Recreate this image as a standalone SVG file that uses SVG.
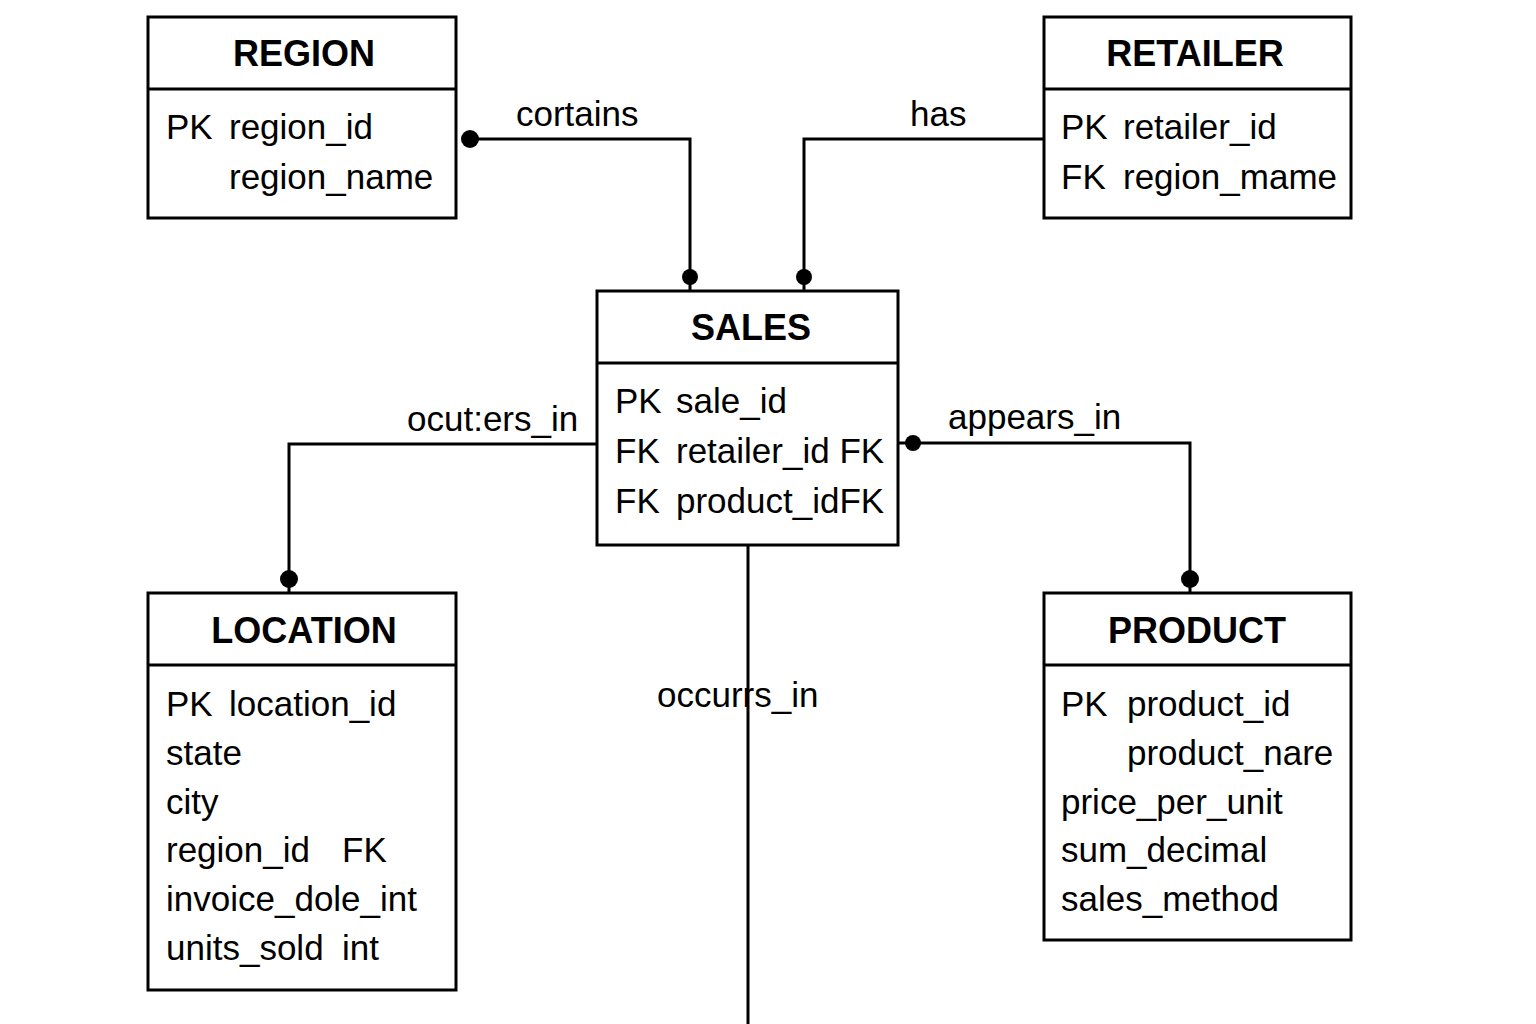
<svg xmlns="http://www.w3.org/2000/svg" width="1536" height="1024" viewBox="0 0 1536 1024">
<style>
.box{fill:#fff;stroke:#000;stroke-width:3}
.div{stroke:#000;stroke-width:3}
.title{font-family:"Liberation Sans",Arial,sans-serif;font-size:36px;font-weight:bold;text-anchor:middle;fill:#000}
.row{font-family:"Liberation Sans",Arial,sans-serif;font-size:35px;fill:#000}
.lbl{font-family:"Liberation Sans",Arial,sans-serif;font-size:35px;fill:#000}
.con{fill:none;stroke:#000;stroke-width:3}
.dot{fill:#000}
</style>
<rect width="1536" height="1024" fill="#fff"/>
<g id="connectors">
  <polyline class="con" points="470,139 690,139 690,291"/>
  <circle class="dot" cx="470" cy="139" r="9"/>
  <circle class="dot" cx="690" cy="277" r="8"/>
  <text class="lbl" x="516" y="126">cortains</text>
  <polyline class="con" points="1044,139 804,139 804,291"/>
  <circle class="dot" cx="804" cy="277" r="8"/>
  <text class="lbl" x="910" y="126">has</text>
  <polyline class="con" points="597,444 289,444 289,593"/>
  <circle class="dot" cx="289" cy="579" r="9"/>
  <text class="lbl" x="407" y="431">ocut:ers_in</text>
  <polyline class="con" points="898,443 1190,443 1190,593"/>
  <circle class="dot" cx="913" cy="443" r="8"/>
  <circle class="dot" cx="1190" cy="579" r="9"/>
  <text class="lbl" x="948" y="429">appears_in</text>
  <text class="lbl" x="657" y="707">occurrs_in</text>
  <line class="con" x1="748" y1="545" x2="748" y2="1024"/>
</g>
<g id="region">
  <rect class="box" x="148" y="17" width="308" height="201"/>
  <line class="div" x1="148" y1="89" x2="456" y2="89"/>
  <text class="title" x="304" y="66">REGION</text>
  <text class="row" x="166" y="139">PK</text>
  <text class="row" x="229" y="139">region_id</text>
  <text class="row" x="229" y="189">region_name</text>
</g>
<g id="retailer">
  <rect class="box" x="1044" y="17" width="307" height="201"/>
  <line class="div" x1="1044" y1="89" x2="1351" y2="89"/>
  <text class="title" x="1195" y="66">RETAILER</text>
  <text class="row" x="1061" y="139">PK</text>
  <text class="row" x="1123" y="139">retailer_id</text>
  <text class="row" x="1061" y="189">FK</text>
  <text class="row" x="1123" y="189">region_mame</text>
</g>
<g id="sales">
  <rect class="box" x="597" y="291" width="301" height="254"/>
  <line class="div" x1="597" y1="363" x2="898" y2="363"/>
  <text class="title" x="751" y="340">SALES</text>
  <text class="row" x="615" y="413">PK</text>
  <text class="row" x="676" y="413">sale_id</text>
  <text class="row" x="615" y="463">FK</text>
  <text class="row" x="676" y="463">retailer_id FK</text>
  <text class="row" x="615" y="513">FK</text>
  <text class="row" x="676" y="513">product_idFK</text>
</g>
<g id="location">
  <rect class="box" x="148" y="593" width="308" height="397"/>
  <line class="div" x1="148" y1="665" x2="456" y2="665"/>
  <text class="title" x="304" y="643">LOCATION</text>
  <text class="row" x="166" y="716">PK</text>
  <text class="row" x="229" y="716">location_id</text>
  <text class="row" x="166" y="765">state</text>
  <text class="row" x="166" y="814">city</text>
  <text class="row" x="166" y="862">region_id</text>
  <text class="row" x="342" y="862">FK</text>
  <text class="row" x="166" y="911">invoice_dole_int</text>
  <text class="row" x="166" y="960">units_sold</text>
  <text class="row" x="342" y="960">int</text>
</g>
<g id="product">
  <rect class="box" x="1044" y="593" width="307" height="347"/>
  <line class="div" x1="1044" y1="665" x2="1351" y2="665"/>
  <text class="title" x="1197" y="643">PRODUCT</text>
  <text class="row" x="1061" y="716">PK</text>
  <text class="row" x="1127" y="716">product_id</text>
  <text class="row" x="1127" y="765">product_nare</text>
  <text class="row" x="1061" y="814">price_per_unit</text>
  <text class="row" x="1061" y="862">sum_decimal</text>
  <text class="row" x="1061" y="911">sales_method</text>
</g>
</svg>
